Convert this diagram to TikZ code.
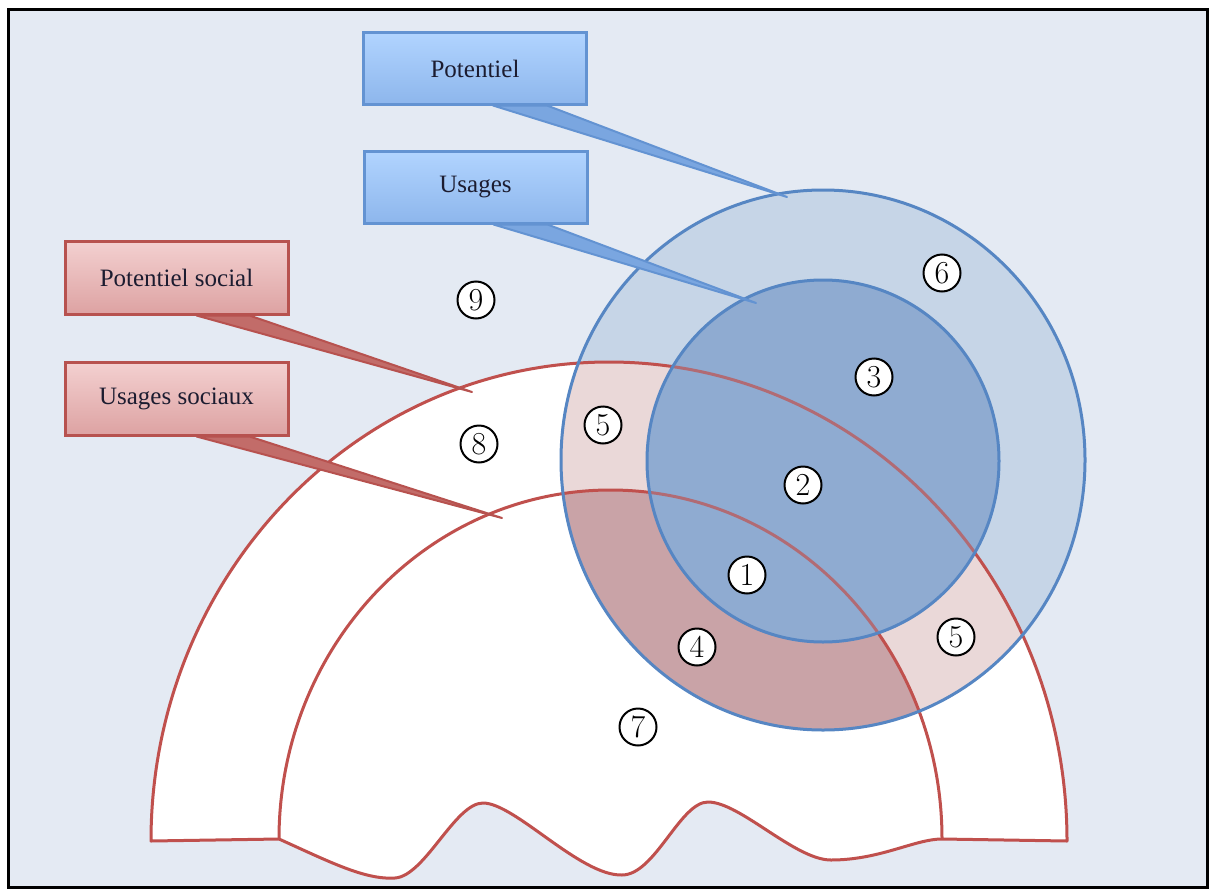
\documentclass[tikz,border=0pt]{standalone}
\usepackage{fontspec}
\newfontfamily\labelfont{Liberation Serif}
\usepackage{tikz}
\usetikzlibrary{calc}
\definecolor{bgblue}{HTML}{E4EAF3}
\definecolor{ringblue}{HTML}{C6D5E7}
\definecolor{coreblue}{HTML}{8FABD1}
\definecolor{lineblue}{HTML}{5686C3}
\definecolor{archred}{HTML}{C0504D}
\definecolor{palepink}{HTML}{EAD8D8}
\definecolor{rosepink}{HTML}{C9A3A7}
\definecolor{btop}{HTML}{B1D4FF}
\definecolor{bbot}{HTML}{8DB6EC}
\definecolor{bline}{HTML}{6393D2}
\definecolor{rtop}{HTML}{F3D0D0}
\definecolor{rbot}{HTML}{DDA2A2}
\definecolor{rline}{HTML}{B7524F}
\definecolor{inktext}{HTML}{1C1C30}
\tikzset{
    bluebox/.style={draw=bline, line width=3pt, top color=btop, bottom color=bbot, minimum width=223pt, minimum height=72pt, inner sep=0pt, text=inktext, font=\labelfont\fontsize{25}{29}\selectfont},
    redbox/.style={draw=rline, line width=3pt, top color=rtop, bottom color=rbot, minimum width=223pt, minimum height=73pt, inner sep=0pt, text=inktext, font=\labelfont\fontsize{25}{29}\selectfont},
    bluetail/.style={fill=bbot!55!bline, draw=bline, line width=2pt, line join=round},
    redtail/.style={fill=rline!85!white, draw=rline, line width=2pt, line join=round},
    archline/.style={draw=archred, line width=3pt, line join=round},
    ringline/.style={draw=lineblue, line width=3pt},
    zone/.style={circle, draw=black, line width=2pt, fill=white, minimum size=37pt, inner sep=0pt, font=\fontsize{32}{32}\selectfont}
}
\newcommand{\outerarch}{(151,841) arc[start angle=180, end angle=0, x radius=458pt, y radius=479pt]}
\newcommand{\innerarch}{(279,839) arc[start angle=180, end angle=0, x radius=331.5pt, y radius=349pt]}
\newcommand{\bigring}{(823,460) ellipse [x radius=262pt, y radius=270pt]}
\newcommand{\smallring}{(823,461) ellipse [x radius=176pt, y radius=181pt]}
\begin{document}
\begin{tikzpicture}[x=1pt, y=-1pt]
    \useasboundingbox (0,0) rectangle (1212,891);
    \fill[white] (0,0) rectangle (1212,891);
    \fill[bgblue] (8,10) rectangle (1207,887);
    \fill[white] \outerarch -- (942,839)
        .. controls (915,839) and (880,860) .. (831,860)
        .. controls (795,860) and (740,802) .. (708,802)
        .. controls (680,802) and (655,875) .. (622,875)
        .. controls (580,876) and (515,803) .. (483,803)
        .. controls (455,803) and (425,876) .. (395,878)
        .. controls (365,880) and (330,862) .. (279,839) -- cycle;
    \fill[ringblue] \bigring;
    \begin{scope}
        \clip \outerarch -- cycle;
        \fill[palepink] \bigring;
        \clip \innerarch -- cycle;
        \fill[rosepink] \bigring;
    \end{scope}
    \fill[coreblue] \smallring;
    % arches
    \draw[archline] \outerarch -- (942,839)
        .. controls (915,839) and (880,860) .. (831,860)
        .. controls (795,860) and (740,802) .. (708,802)
        .. controls (680,802) and (655,875) .. (622,875)
        .. controls (580,876) and (515,803) .. (483,803)
        .. controls (455,803) and (425,876) .. (395,878)
        .. controls (365,880) and (330,862) .. (279,839) -- cycle;
    \draw[archline] \innerarch;
    \fill[coreblue, opacity=0.3] \smallring;
    \draw[ringline] \bigring;
    \draw[ringline] \smallring;
    % callouts
    \node[bluebox] (pot) at (475,68.5) {Potentiel};
    \node[bluebox] (usg) at (475.5,187.5) {Usages};
    \node[redbox] (psoc) at (176.5,278) {Potentiel social};
    \node[redbox] (usoc) at (176.5,399) {Usages sociaux};
    \coordinate (pottip) at (787,197);
    \coordinate (usgtip) at (756,303);
    \coordinate (psoctip) at (472,392);
    \coordinate (usoctip) at (502,518);
    \filldraw[bluetail] ($(pot.south)+(18,-0.5)$) -- (pottip) -- ($(pot.south)+(72,-0.5)$) -- cycle;
    \filldraw[bluetail] ($(usg.south)+(18,-0.5)$) -- (usgtip) -- ($(usg.south)+(72,-0.5)$) -- cycle;
    \filldraw[redtail] ($(psoc.south)+(20,-0.5)$) -- (psoctip) -- ($(psoc.south)+(73,-0.5)$) -- cycle;
    \filldraw[redtail] ($(usoc.south)+(20,-0.5)$) -- (usoctip) -- ($(usoc.south)+(73,-0.5)$) -- cycle;
    % zones
    \node[zone] (z1) at (747,575) {1};
    \node[zone] (z2) at (803,485) {2};
    \node[zone] (z3) at (874,377) {3};
    \node[zone] (z4) at (697,647) {4};
    \node[zone] (z5a) at (603,425) {5};
    \node[zone] (z5b) at (956,637) {5};
    \node[zone] (z6) at (942,273) {6};
    \node[zone] (z7) at (638,727) {7};
    \node[zone] (z8) at (479,444) {8};
    \node[zone] (z9) at (476,300) {9};
    \draw[black, line width=3pt] (8,10) rectangle (1207,887);
\end{tikzpicture}
\end{document}
